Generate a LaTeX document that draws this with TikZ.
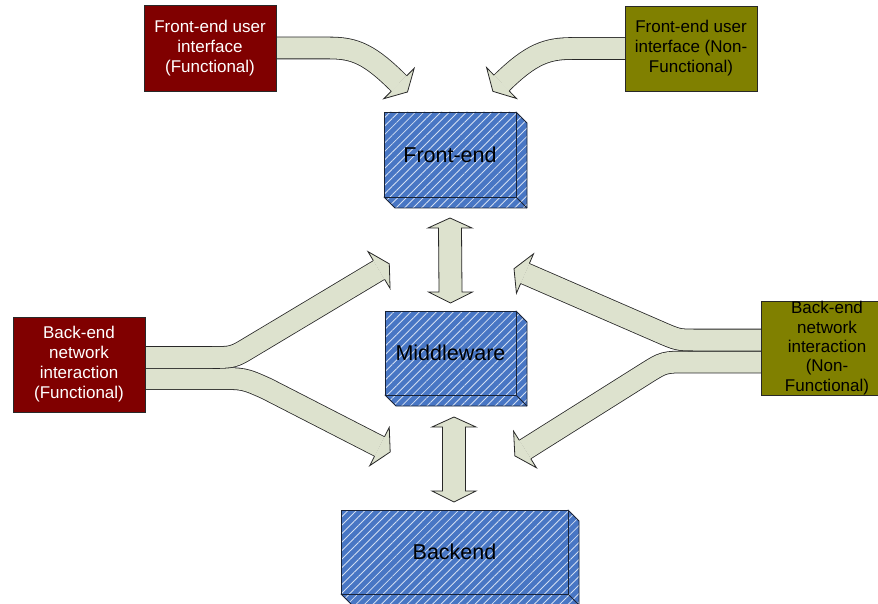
\documentclass[tikz,border=0pt]{standalone}
\usepackage{fontspec}
\setmainfont{Liberation Sans}
\usetikzlibrary{calc,patterns.meta,backgrounds}

\definecolor{bandfill}{RGB}{221,226,206}
\definecolor{edge}{RGB}{40,40,40}
\definecolor{slabblue}{RGB}{72,118,196}
\definecolor{slabstripe}{RGB}{210,222,242}
\definecolor{slabedge}{RGB}{25,35,55}
\definecolor{funcred}{RGB}{128,0,0}
\definecolor{nfolive}{RGB}{128,128,0}

\tikzset{
  slabface/.style={preaction={fill=slabblue},
    pattern={Lines[angle=45,distance=6pt,line width=0.85pt]},
    pattern color=slabstripe, draw=slabedge, line width=0.8pt, line join=round},
  slab/.style={slabface, rectangle, inner sep=0pt, outer sep=0pt,
    font=\fontsize{21.5}{25}\selectfont},
  reqbox/.style={rectangle, draw=edge, line width=0.7pt, inner sep=0pt,
    outer sep=0pt, align=center, minimum width=132pt,
    font=\fontsize{17}{20}\selectfont},
  band/.style={draw=edge, line width=0.8pt, double=bandfill, double distance=21pt},
  bandtip/.style={fill=bandfill, draw=edge, line width=0.8pt, line join=miter},
}

% arrow head of a wide band: #1 = base point, #2 = direction (degrees)
\newcommand\bandhead[2]{%
  \begin{scope}[shift={(#1)},rotate=#2]
    \filldraw[bandtip] (0,10.9) -- (0,21.5) -- (12,0) -- (0,-21.5) -- (0,-10.9);
  \end{scope}}

% vertical two-way block arrow between tips #1 (top) and #2 (bottom)
\newcommand\twoway[2]{%
  \filldraw[bandtip] (#1) -- ($(#1)+(22,10)$) -- ($(#1)+(11.5,10)$)
    -- ($(#2)+(11.5,-11)$) -- ($(#2)+(22,-11)$) -- (#2)
    -- ($(#2)+(-22,-11)$) -- ($(#2)+(-11.5,-11)$)
    -- ($(#1)+(-11.5,10)$) -- ($(#1)+(-22,10)$) -- cycle;}

% extruded right and bottom faces of a slab node
\newcommand\slabsides[1]{%
  \path[slabface] (#1.north east) -- ++(11,11) -- ($(#1.south east)+(11,11)$)
    -- ($(#1.south west)+(11,11)$) -- (#1.south west) -- (#1.south east) -- cycle;
  \draw[slabedge, line width=0.8pt] (#1.south east) -- ++(11,11);}

\begin{document}
\begin{tikzpicture}[x=1pt,y=-1pt]
\useasboundingbox (0,0) rectangle (878,604);
\clip (0,0) rectangle (878,604);

% requirement sources
\node[reqbox, fill=funcred, text=white, minimum height=86pt] (feuiF) at (210,48)
  {Front-end user\\interface\\(Functional)};
\node[reqbox, fill=nfolive, text=black, minimum height=85pt] (feuiN) at (691,48.5)
  {Front-end user\\interface (Non-\\Functional)};
\node[reqbox, fill=funcred, text=white, minimum height=95pt] (benF) at (79,364.5)
  {Back-end\\network\\interaction\\(Functional)};
\node[reqbox, fill=nfolive, text=black, minimum height=94pt,
      font=\fontsize{17}{19.3}\selectfont] (benN) at (827,348)
  {Back-end\\network\\interaction\\(Non-\\Functional)};

% system layers
\node[slab, minimum width=132pt, minimum height=85pt] (fe) at (450,154.5) {Front-end};
\node[slab, minimum width=131pt, minimum height=84pt] (mw) at (450.5,353) {Middleware};
\node[slab, minimum width=227pt, minimum height=84pt] (be) at (454.5,552) {Backend};

\begin{scope}[on background layer]
  \slabsides{fe}
  \slabsides{mw}
  \slabsides{be}

  % front-end user interface requirements
  \draw[band] ($(feuiF.east)+(-4,0)$) -- (330,48)
    .. controls (355,48) and (370,54.5) .. (399,83.5) coordinate (a1);
  \bandhead{a1}{-45}
  \draw[band] ($(feuiN.west)+(4,0)$) -- (572,48.5)
    .. controls (547,48.5) and (531,54) .. (501.5,83) coordinate (a2);
  \bandhead{a2}{-136}

  % back-end network interaction (functional)
  \draw[band] ($(benF.east)+(-4,14)$) -- (217,378.5)
    .. controls (244,378.5) .. (266.6,388.6) -- (379.5,446.5) coordinate (b2);
  \bandhead{b2}{-27}
  \draw[band] ($(benF.east)+(-4,-7)$) -- (210,357.5)
    .. controls (233,357.5) .. (250.1,347.2) -- (379,270) coordinate (b1);
  \bandhead{b1}{31}

  % back-end network interaction (non-functional)
  \draw[band] ($(benN.west)+(4,14)$) -- (688,362)
    .. controls (664,362) .. (645.4,373.7) -- (525,449.5) coordinate (c2);
  \bandhead{c2}{-148}
  \draw[band] ($(benN.west)+(4,-8)$) -- (695,340)
    .. controls (678,340) .. (657.8,331.2) -- (525,273.5) coordinate (c1);
  \bandhead{c1}{156.5}

  % layer-to-layer exchange
  \coordinate (fm-top) at ($(fe.south)+(0,21)$);
  \coordinate (fm-bot) at ($(mw.north)+(0,-8)$);
  \twoway{fm-top}{fm-bot}
  \coordinate (mb-top) at ($(mw.south)+(3.5,22)$);
  \coordinate (mb-bot) at ($(be.north)+(-0.5,-8)$);
  \twoway{mb-top}{mb-bot}
\end{scope}
\end{tikzpicture}
\end{document}
